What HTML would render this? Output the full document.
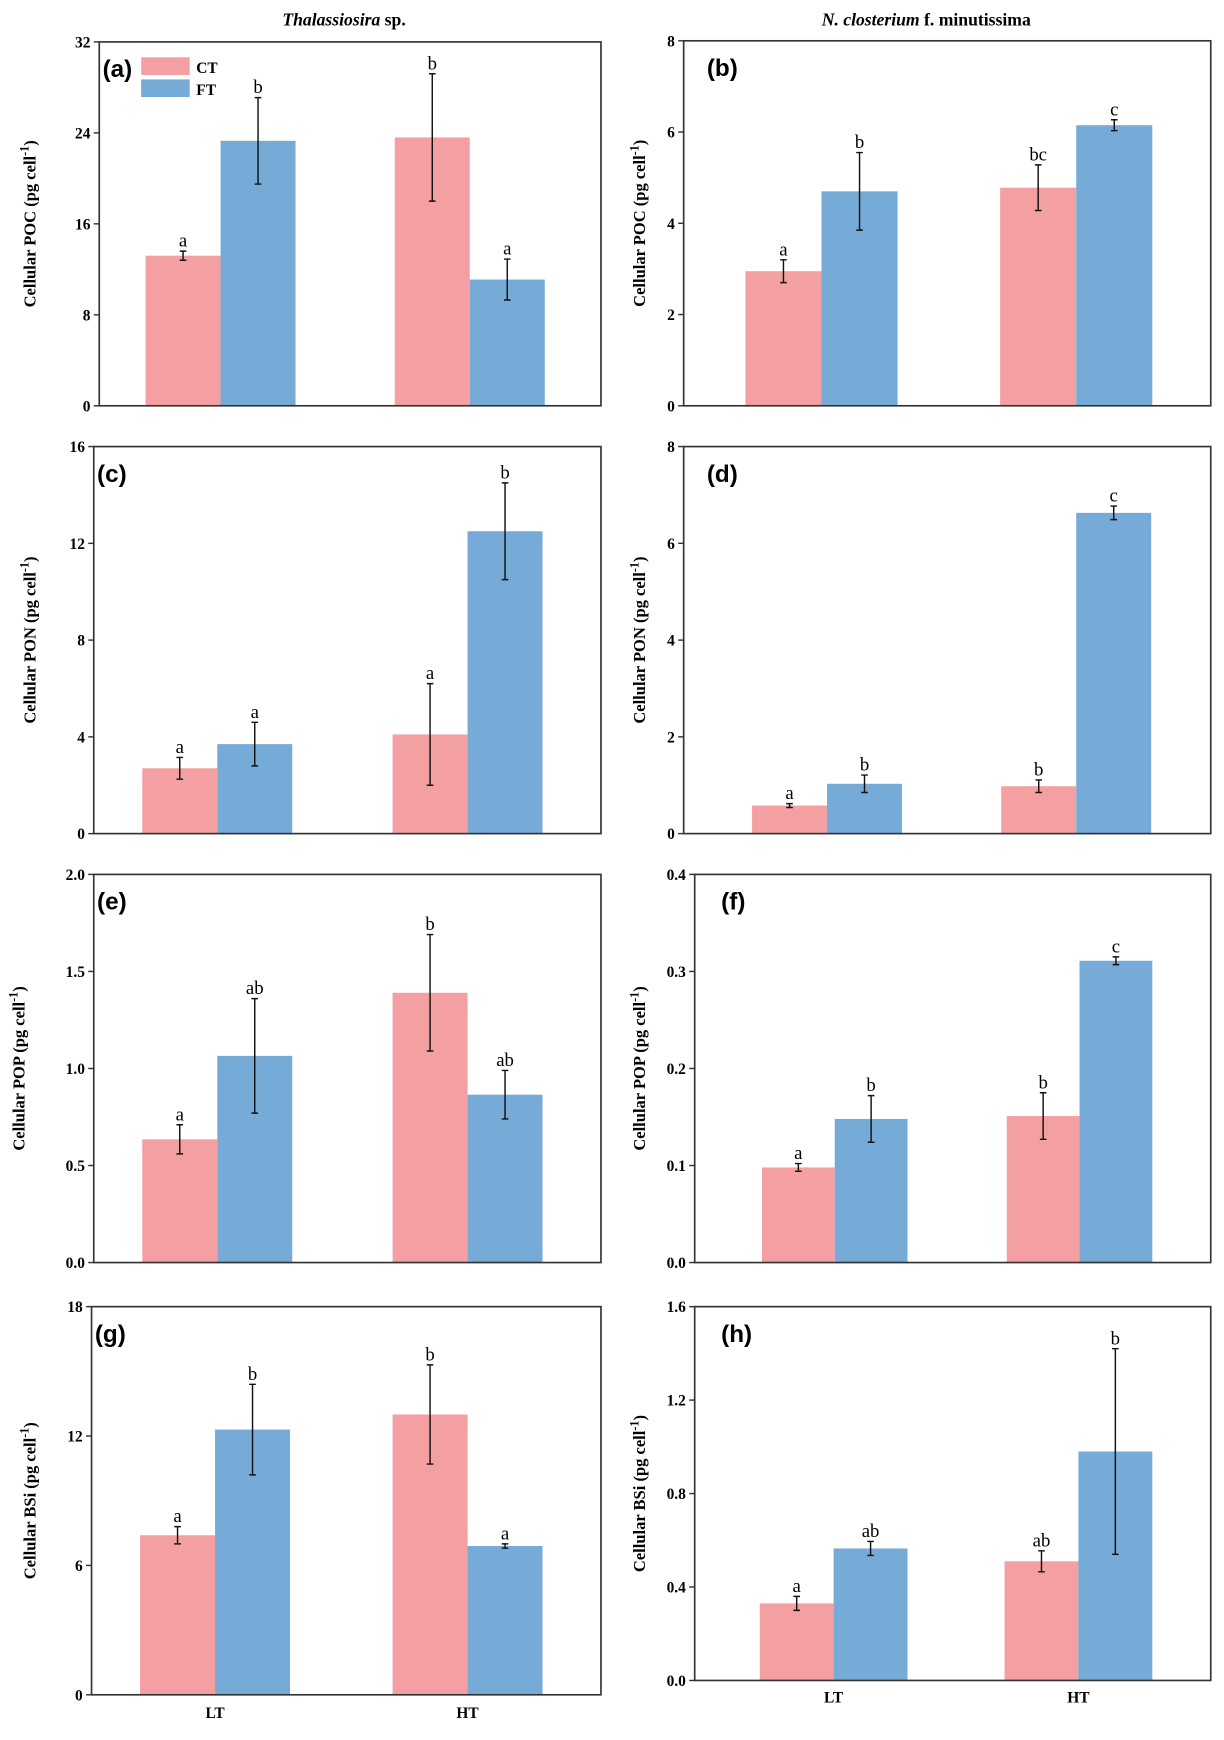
<!DOCTYPE html>
<html><head><meta charset="utf-8"><style>
html,body{margin:0;padding:0;background:#fff}
svg{display:block}
text{font-family:"Liberation Serif",serif}
</style></head><body>
<svg id="fig" width="1224" height="1740" viewBox="0 0 1110 1578" xmlns="http://www.w3.org/2000/svg">
<text x="312" y="23" text-anchor="middle" font-size="16" font-weight="bold"><tspan font-style="italic">Thalassiosira</tspan> sp.</text>
<text x="840" y="23" text-anchor="middle" font-size="16" font-weight="bold"><tspan font-style="italic">N. closterium</tspan> f. minutissima</text>
</svg>
<script>
const groups = ["LT","HT"];
const seriesNames = ["CT","FT"];
const aCT=[13.2,23.6], aCTe=[0.4,5.6], aFT=[23.3,11.1], aFTe=[3.8,1.8], aCTl=["a","b"], aFTl=["b","a"];
const bCT=[2.95,4.78], bCTe=[0.25,0.5], bFT=[4.7,6.15], bFTe=[0.85,0.12], bCTl=["a","bc"], bFTl=["b","c"];
const cCT=[2.7,4.1], cCTe=[0.45,2.1], cFT=[3.7,12.5], cFTe=[0.9,2.0], cCTl=["a","a"], cFTl=["a","b"];
const dCT=[0.58,0.98], dCTe=[0.04,0.13], dFT=[1.03,6.63], dFTe=[0.18,0.14], dCTl=["a","b"], dFTl=["b","c"];
const eCT=[0.635,1.39], eCTe=[0.075,0.3], eFT=[1.065,0.865], eFTe=[0.295,0.125], eCTl=["a","b"], eFTl=["ab","ab"];
const fCT=[0.098,0.151], fCTe=[0.004,0.024], fFT=[0.148,0.311], fFTe=[0.024,0.004], fCTl=["a","b"], fFTl=["b","c"];
const gCT=[7.4,13.0], gCTe=[0.4,2.3], gFT=[12.3,6.9], gFTe=[2.1,0.1], gCTl=["a","b"], gFTl=["b","a"];
const hCT=[0.33,0.51], hCTe=[0.03,0.045], hFT=[0.565,0.98], hFTe=[0.03,0.44], hCTl=["a","ab"], hFTl=["ab","b"];
const aTicks=[0,8,16,24,32], bTicks=[0,2,4,6,8], cTicks=[0,4,8,12,16], dTicks=[0,2,4,6,8];
const eTicks=["0.0","0.5","1.0","1.5","2.0"], fTicks=["0.0","0.1","0.2","0.3","0.4"], gTicks=[0,6,12,18], hTicks=["0.0","0.4","0.8","1.2","1.6"];

const NS="http://www.w3.org/2000/svg";
const svg=document.getElementById("fig");
function mk(tag,attrs,parent){const e=document.createElementNS(NS,tag);for(const k in attrs)e.setAttribute(k,attrs[k]);(parent||svg).appendChild(e);return e;}
const panels=[
 {id:"a",L:90,R:545,T:38,B:368,ticks:aTicks,ct:aCT,cte:aCTe,ft:aFT,fte:aFTe,ctl:aCTl,ftl:aFTl,g:[[132,200],[358,426]],lab:"POC",lx:32,legend:true},
 {id:"b",L:620,R:1098,T:37,B:368,ticks:bTicks,ct:bCT,cte:bCTe,ft:bFT,fte:bFTe,ctl:bCTl,ftl:bFTl,g:[[676,745],[907,976]],lab:"POC",lx:585},
 {id:"c",L:85,R:545,T:405,B:756,ticks:cTicks,ct:cCT,cte:cCTe,ft:cFT,fte:cFTe,ctl:cCTl,ftl:cFTl,g:[[129,197],[356,425]],lab:"PON",lx:32},
 {id:"d",L:620,R:1098,T:405,B:756,ticks:dTicks,ct:dCT,cte:dCTe,ft:dFT,fte:dFTe,ctl:dCTl,ftl:dFTl,g:[[682,750],[908,976]],lab:"PON",lx:585},
 {id:"e",L:85,R:545,T:793,B:1145,ticks:eTicks,ct:eCT,cte:eCTe,ft:eFT,fte:eFTe,ctl:eCTl,ftl:eFTl,g:[[129,197],[356,425]],lab:"POP",lx:22},
 {id:"f",L:630,R:1098,T:793,B:1145,ticks:fTicks,ct:fCT,cte:fCTe,ft:fFT,fte:fFTe,ctl:fCTl,ftl:fFTl,g:[[691,757],[913,979]],lab:"POP",lx:585},
 {id:"g",L:83,R:545,T:1185,B:1537,ticks:gTicks,ct:gCT,cte:gCTe,ft:gFT,fte:gFTe,ctl:gCTl,ftl:gFTl,g:[[127,195],[356,424]],lab:"BSi",lx:32,xl:1558},
 {id:"h",L:630,R:1098,T:1185,B:1524,ticks:hTicks,ct:hCT,cte:hCTe,ft:hFT,fte:hFTe,ctl:hCTl,ftl:hFTl,g:[[689,756],[911,978]],lab:"BSi",lx:585,xl:1544}
];
panels.forEach(p=>{
 const gr=mk("g",{});
 
 
 const vmax=parseFloat(p.ticks[p.ticks.length-1]);
 const y=v=>p.B-(v/vmax)*(p.B-p.T);
 const bw=p.g[0][1]-p.g[0][0];
 const series=[[p.ct,p.cte,p.ctl,"#F4A0A3","ct"],[p.ft,p.fte,p.ftl,"#76ABD7","ft"]];
 series.forEach((s,si)=>{
  groups.forEach((gname,gi)=>{
   const x0=p.g[gi][0]+si*bw, v=s[0][gi], er=s[1][gi];
   const r=mk("rect",{x:x0,y:y(v),width:bw,height:p.B-y(v),fill:s[3]},gr);
   
   
   const cx=x0+bw/2, yt=y(v+er), yb=y(v-er);
   const eb=mk("path",{d:`M${cx},${yt}V${yb}M${cx-3},${yt}H${cx+3}M${cx-3},${yb}H${cx+3}`,stroke:"#111","stroke-width":1.3,fill:"none"},gr);
   
   
   const t=mk("text",{x:cx,y:yt-4,"text-anchor":"middle","font-size":17},gr);
   t.textContent=s[2][gi];
   
   
  });
 });
 const box=mk("rect",{x:p.L,y:p.T,width:p.R-p.L,height:p.B-p.T,fill:"none",stroke:"#333","stroke-width":1.5},gr);
 
 
 p.ticks.forEach(tv=>{
  const yy=y(parseFloat(tv));
  mk("line",{x1:p.L-5,x2:p.L,y1:yy,y2:yy,stroke:"#333","stroke-width":1.3},gr);
  const t=mk("text",{x:p.L-8,y:yy+5,"text-anchor":"end","font-size":14,"font-weight":"bold"},gr);
  t.textContent=tv;
  
  
 });
 const pl=mk("text",{x:p.L+(p.id==="f"||p.id==="h"?24:3)+ (p.id==="b"||p.id==="d"?18:0),y:p.T+32,"font-size":22,"font-weight":"bold",style:'font-family:"Liberation Sans",sans-serif'},gr);
 pl.textContent="("+p.id+")";
 
 
 const cy=(p.T+p.B)/2;
 const yl=mk("text",{x:p.lx,y:cy,"text-anchor":"middle","font-size":15,"font-weight":"bold",transform:`rotate(-90 ${p.lx} ${cy})`},gr);
 yl.innerHTML=`Cellular ${p.lab} (pg cell<tspan dy="-6" font-size="11">-1</tspan><tspan dy="6">)</tspan>`;
 
 
 if(p.xl){
  groups.forEach((gname,gi)=>{
   const t=mk("text",{x:p.g[gi][1],y:p.xl,"text-anchor":"middle","font-size":14,"font-weight":"bold"},gr);
   t.textContent=gname;
   
   
  });
 }
 if(p.legend){
  const cols=["#F4A0A3","#76ABD7"];
  seriesNames.forEach((n,i)=>{
   const r=mk("rect",{x:128,y:52+i*20,width:44,height:16,fill:cols[i]},gr);
   
   
   const t=mk("text",{x:178,y:66+i*20,"font-size":14,"font-weight":"bold"},gr);
   t.textContent=n;
   
   
  });
 }
});
</script>
</body></html>
